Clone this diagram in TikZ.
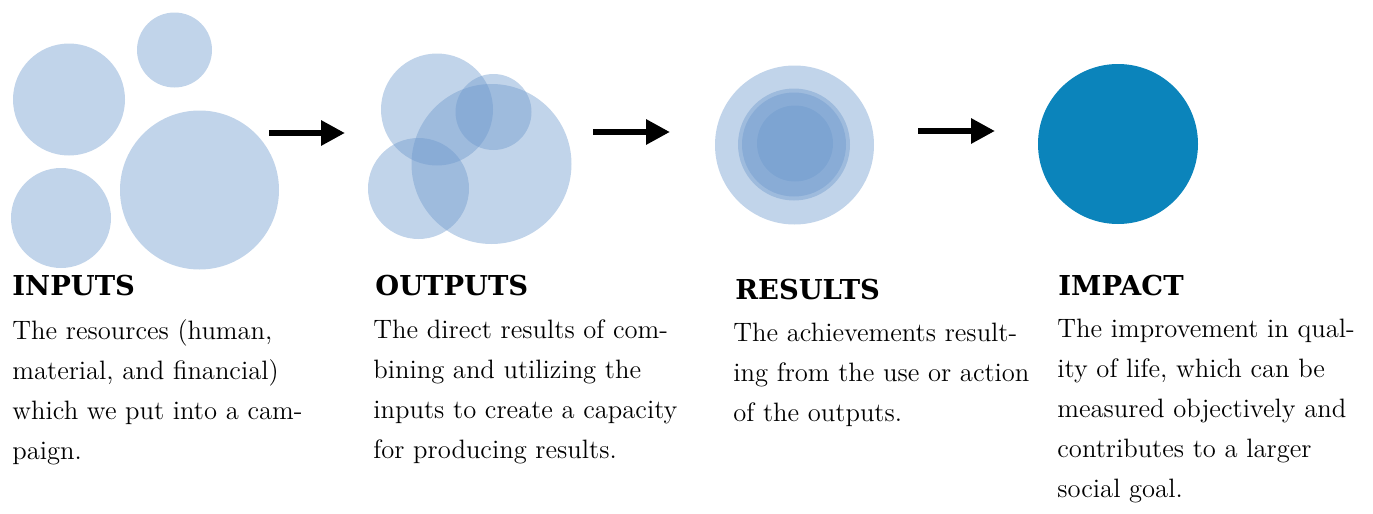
\documentclass[tikz,border=0pt]{standalone}
\usepackage{fontspec}
\newfontfamily\headfont{DejaVu Serif}
\usetikzlibrary{arrows.meta}
\definecolor{blobblue}{RGB}{108,152,204}
\definecolor{impactblue}{RGB}{11,132,187}

\begin{document}
\begin{tikzpicture}[x=0.5pt, y=-0.5pt,
    blob/.style={fill=blobblue, fill opacity=0.42},
    head/.style={anchor=base west, inner sep=0pt, font=\headfont\bfseries\fontsize{13.7}{16}\selectfont},
    body/.style={anchor=north west, inner sep=0pt, align=left, font=\fontsize{13.3}{20}\selectfont},
    flow/.style={line width=3pt, -{Triangle[length=12pt, width=12pt]}}]
    \useasboundingbox (0,0) rectangle (1373,514);

    % inputs
    \fill[blob] (69,99.5) circle (56);
    \fill[blob] (174.5,50) circle (37.5);
    \fill[blob] (61,218) circle (50);
    \fill[blob] (199.5,190) circle (79.5);

    % outputs
    \fill[blob] (437,109.5) circle (56);
    \fill[blob] (493.5,112) circle (38);
    \fill[blob] (491.5,164) circle (80);
    \fill[blob] (418.5,188.5) circle (50.5);

    % results
    \fill[blob] (794.5,145) circle (79.5);
    \fill[blob] (794,144.5) circle (56);
    \fill[blob] (794,144.5) circle (52);
    \fill[blob] (795,143.5) circle (38);

    % impact
    \fill[impactblue] (1118,144) circle (80);

    % arrows
    \coordinate (a1s) at (269,133);
    \coordinate (a1e) at (345,133);
    \coordinate (a2s) at (593,132);
    \coordinate (a2e) at (670,132);
    \coordinate (a3s) at (918,131);
    \coordinate (a3e) at (995,131);
    \draw[flow] (a1s) -- (a1e);
    \draw[flow] (a2s) -- (a2e);
    \draw[flow] (a3s) -- (a3e);

    % texts
    \node[head] (inhead) at (12,295) {INPUTS};
    \node[body] (inbody) at (12,319) {The resources (human,\\material, and financial)\\which we put into a cam-\\paign.};
    \node[head] (outhead) at (375,295) {OUTPUTS};
    \node[body] (outbody) at (373,319) {The direct results of com-\\bining and utilizing the\\inputs to create a capacity\\for producing results.};
    \node[head] (reshead) at (735,299) {RESULTS};
    \node[body] (resbody) at (733,323) {The achievements result-\\ing from the use or action\\of the outputs.};
    \node[head] (imphead) at (1058,295) {IMPACT};
    \node[body] (impbody) at (1057,319) {The improvement in qual-\\ity of life, which can be\\measured objectively and\\contributes to a larger\\social goal.};
\end{tikzpicture}
\end{document}
